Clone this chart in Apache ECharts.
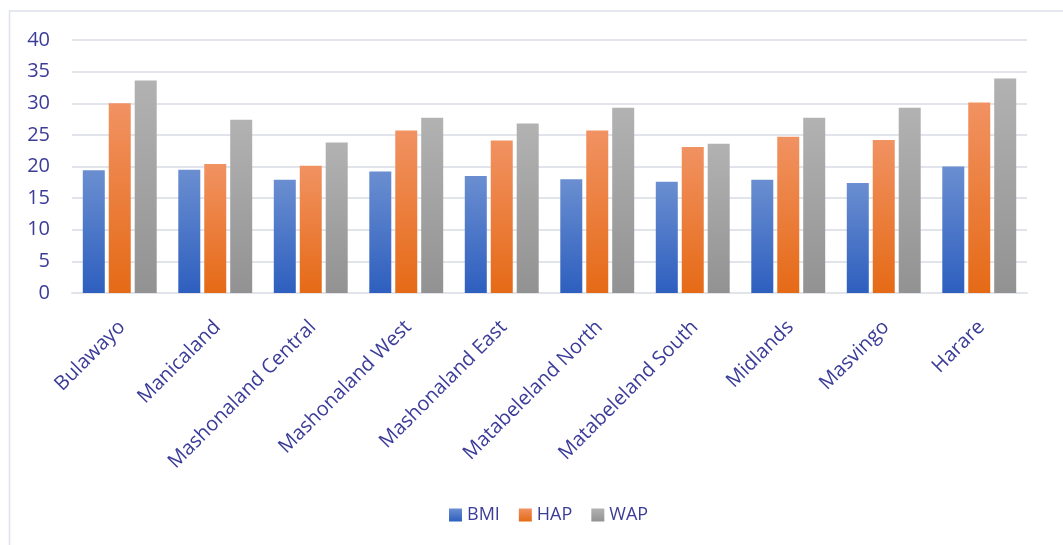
<!DOCTYPE html>
<html>
<head>
<meta charset="utf-8">
<script src="https://cdn.jsdelivr.net/npm/echarts@6/dist/echarts.min.js"></script>
<style>
  html, body { margin: 0; padding: 0; background: #fff; }
  #chart { width: 1063px; height: 545px; }
</style>
</head>
<body>
<div id="chart"></div>
<script>
// Provinces on the category axis
const provinces = [
  'Bulawayo', 'Manicaland', 'Mashonaland Central', 'Mashonaland West',
  'Mashonaland East', 'Matabeleland North', 'Matabeleland South',
  'Midlands', 'Masvingo', 'Harare'
];

// Series values per province
const bmi = [19.4, 19.5, 17.9, 19.2, 18.5, 18.0, 17.6, 17.9, 17.4, 20.0];
const hap = [30.0, 20.4, 20.1, 25.7, 24.1, 25.7, 23.1, 24.7, 24.2, 30.1];
const wap = [33.6, 27.4, 23.8, 27.7, 26.8, 29.3, 23.6, 27.7, 29.3, 33.9];

const seriesNames = ['BMI', 'HAP', 'WAP'];

const textColor = '#3b3c98';
const gridColor = '#e1e5eb';
const fontFamily = '"Open Sans", Lato, sans-serif';

function grad(top, bottom) {
  return new echarts.graphic.LinearGradient(0, 0, 0, 1, [
    { offset: 0, color: top },
    { offset: 1, color: bottom }
  ]);
}

const fills = [
  grad('#6a8ed0', '#2e5fbf'),
  grad('#f19262', '#e56a16'),
  grad('#b2b2b2', '#929292')
];

const chart = echarts.init(document.getElementById('chart'));

chart.setOption({
  animation: false,
  backgroundColor: '#ffffff',
  textStyle: { fontFamily: fontFamily },
  grid: { left: 72, right: 36, top: 40, bottom: 252, containLabel: false },
  legend: {
    data: seriesNames,
    bottom: 16,
    left: 444,
    itemWidth: 13,
    itemHeight: 13,
    itemGap: 19,
    icon: 'rect',
    textStyle: { color: textColor, fontSize: 18, fontFamily: fontFamily }
  },
  xAxis: {
    type: 'category',
    data: provinces,
    axisLine: { show: true, lineStyle: { color: gridColor, width: 2 } },
    axisTick: { show: false },
    axisLabel: {
      rotate: 45,
      interval: 0,
      margin: 19,
      verticalAlign: 'top',
      padding: [0, 7, 0, 0],
      color: textColor,
      fontSize: 20,
      fontFamily: fontFamily
    }
  },
  yAxis: {
    type: 'value',
    min: 0,
    max: 40,
    interval: 5,
    axisLine: { show: false },
    axisTick: { show: false },
    splitLine: { lineStyle: { color: gridColor, width: 2 } },
    axisLabel: {
      margin: 22,
      color: textColor,
      fontSize: 20,
      fontFamily: fontFamily
    }
  },
  graphic: [
    {
      type: 'polyline',
      silent: true,
      shape: { points: [[9.5, 545], [9.5, 11], [1063, 11]] },
      style: { stroke: '#dde2ea', lineWidth: 1.5, fill: null }
    }
  ],
  series: [bmi, hap, wap].map((vals, i) => ({
    name: seriesNames[i],
    type: 'bar',
    data: vals,
    barWidth: 22,
    barGap: '18%',
    itemStyle: { color: fills[i] }
  }))
});
</script>
</body>
</html>
